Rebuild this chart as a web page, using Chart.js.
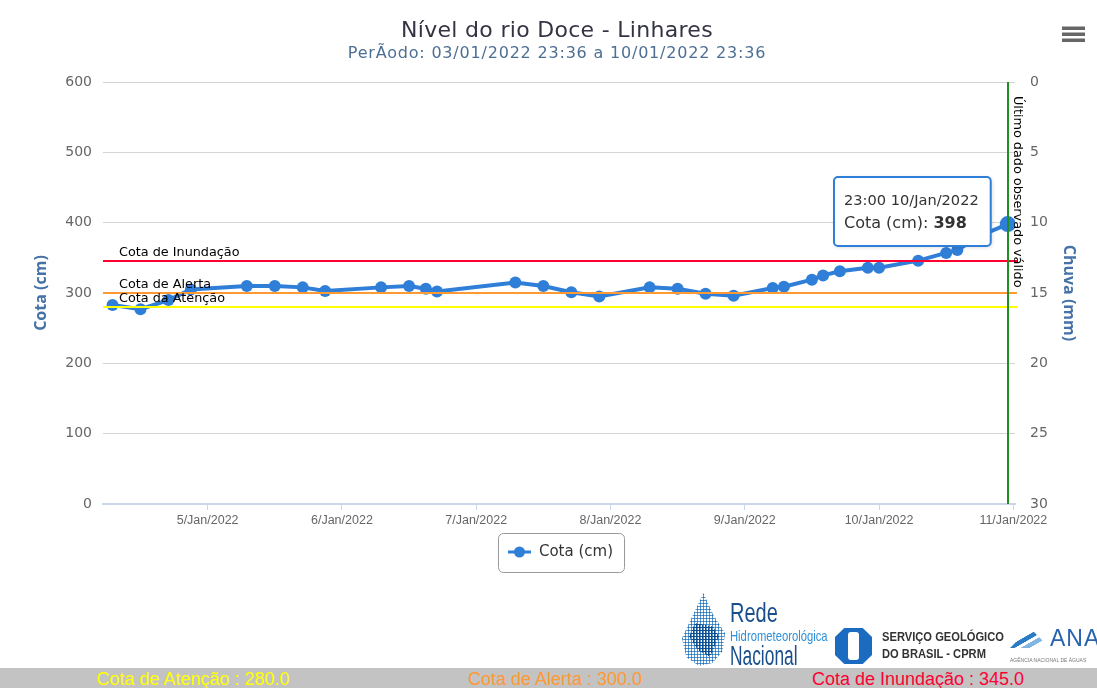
<!DOCTYPE html>
<html lang="pt-BR">
  <head>
    <meta charset="utf-8" />
    <title>Nível do rio Doce - Linhares</title>
    <script src="https://cdn.jsdelivr.net/npm/chart.js@4.4.9/dist/chart.umd.min.js"></script>
    <style>
      body { margin: 0; width: 1097px; height: 688px; overflow: hidden; background: #fff; position: relative; }
      #myChart { position: absolute; left: 0; top: 0; }
      .logo { position: absolute; white-space: nowrap; }
      #rede-gota {
        left: 681px; top: 593px; width: 45px; height: 73px;
        background: radial-gradient(circle, #1f74bd 0.9px, transparent 1.3px) 0 0 / 3px 3px;
        clip-path: polygon(50% 0, 72% 30%, 98% 55%, 92% 80%, 70% 96%, 40% 100%, 12% 88%, 2% 62%, 22% 36%);
      }
      #rede-gota::after {
        content: ""; position: absolute; left: 8px; top: 30px; width: 30px; height: 34px;
        background: radial-gradient(circle, #0f4f8f 1px, transparent 1.4px) 0 0 / 3px 3px;
        clip-path: polygon(20% 0, 80% 10%, 100% 40%, 70% 100%, 30% 80%, 0 40%);
      }
      #rede-txt { left: 730px; top: 600px; font-family: "Liberation Sans", sans-serif; color: #1a4f8c; line-height: 1; transform-origin: 0 0; }
      #rede-txt span { display: block; transform-origin: 0 0; }
      #rede-txt .r { font-size: 27px; transform: scaleX(0.74); }
      #rede-txt .p { font-size: 15px; color: #2f8fd8; transform: scaleX(0.75); margin: 1px 0 -1px; }
      #rede-txt .n { font-size: 28px; transform: scaleX(0.62); }
      #cprm-ico { left: 835px; top: 628px; width: 37px; height: 36px; background: #1b6cc0;
        clip-path: polygon(25% 0, 75% 0, 100% 25%, 100% 75%, 75% 100%, 25% 100%, 0 75%, 0 25%); }
      #cprm-ico::after { content: ""; position: absolute; left: 13px; top: 4px; width: 11px; height: 28px; background: #fff; border-radius: 3px; }
      #cprm-txt { left: 882px; top: 629px; font: bold 12px "Liberation Sans", sans-serif; color: #333; line-height: 17px; transform: scaleX(0.93); transform-origin: 0 0; }
      #ana-ico { left: 1010px; top: 628px; width: 40px; height: 20px;
        background: linear-gradient(150deg, transparent 40%, #2b7cc6 41%, #2b7cc6 52%, transparent 53%, transparent 60%, #7fb6e3 61%, #7fb6e3 72%, transparent 73%);
        clip-path: polygon(0 100%, 50% 0, 100% 100%); }
      #ana-txt { left: 1050px; top: 625px; font: 23px "Liberation Sans", sans-serif; color: #2a63b0; letter-spacing: 1px; }
      #ana-sub { left: 1010px; top: 657px; font: 5px "Liberation Sans", sans-serif; color: #777; }
      #cotas { position: absolute; left: 0; top: 668px; width: 1097px; height: 20px; background: #c3c3c3; overflow: hidden; }
      #cotas span { position: absolute; top: 1px; transform: translateX(-50%); white-space: nowrap;
        font: 18px "Liberation Sans", sans-serif; }
    </style>
  </head>

  <body>
    <canvas id="myChart" width="1097" height="600"></canvas>

    <div class="logo" id="rede-gota"></div>
    <div class="logo" id="rede-txt"><span class="r">Rede</span><span class="p">Hidrometeorológica</span><span class="n">Nacional</span></div>
    <div class="logo" id="cprm-ico"></div>
    <div class="logo" id="cprm-txt">SERVIÇO GEOLÓGICO<br />DO BRASIL - CPRM</div>
    <div class="logo" id="ana-ico"></div>
    <div class="logo" id="ana-txt">ANA</div>
    <div class="logo" id="ana-sub">AGÊNCIA NACIONAL DE ÁGUAS</div>
    <div id="cotas"></div>

    <script>
      // dados (cota em cm)
      const horarios = [
        "04/01 07:00", "04/01 12:00", "04/01 17:00", "04/01 21:00",
        "05/01 07:00", "05/01 12:00", "05/01 17:00", "05/01 21:00",
        "06/01 07:00", "06/01 12:00", "06/01 15:00", "06/01 17:00",
        "07/01 07:00", "07/01 12:00", "07/01 17:00", "07/01 22:00",
        "08/01 07:00", "08/01 12:00", "08/01 17:00", "08/01 22:00",
        "09/01 05:00", "09/01 07:00", "09/01 12:00", "09/01 14:00",
        "09/01 17:00", "09/01 22:00", "10/01 00:00", "10/01 07:00",
        "10/01 12:00", "10/01 14:00", "10/01 18:00", "10/01 23:00",
      ];
      const cota = [
        283, 277, 290, 305,
        310, 310, 308, 303,
        308, 310, 306, 302,
        315, 310, 301, 295,
        308, 306, 299, 296,
        307, 309, 319, 325,
        331, 336, 336, 346,
        357, 361, 381, 398,
      ];
      const limiarNomes = ["Cota de Inundação", "Cota de Alerta", "Cota da Atenção"];
      const limiarValores = [345, 300, 280];
      const rodapeNomes = ["Cota de Atenção", "Cota de Alerta", "Cota de Inundação"];
      const rodapeValores = [280, 300, 345];
      const meses = ["Jan"];
      const titulo = "Nível do rio Doce - Linhares";
      const subtitulo = "PerÃodo: 03/01/2022 23:36 a 10/01/2022 23:36";
      const ultimoDado = "Último dado observado válido";

      const cores = { serie: "#2f7ed8", inundacao: "#ff0033", alerta: "#ff9933", atencao: "#ffff00" };
      const limiarCores = [cores.inundacao, cores.alerta, cores.atencao];
      const rodapeCores = [cores.atencao, cores.alerta, cores.inundacao];
      const fonte = '"DejaVu Sans"';

      // horas desde 04/01/2022 00:00
      function horas(txt) {
        const [data, hora] = txt.split(" ");
        const dia = Number(data.split("/")[0]);
        const [hh, mm] = hora.split(":").map(Number);
        return (dia - 4) * 24 + hh + mm / 60;
      }

      const rodape = document.getElementById("cotas");
      [193, 555, 918].forEach((cx, i) => {
        const s = document.createElement("span");
        s.style.left = cx + "px";
        s.style.color = rodapeCores[i];
        s.textContent = `${rodapeNomes[i]} : ${rodapeValores[i].toFixed(1)}`;
        rodape.appendChild(s);
      });

      const extras = {
        id: "extras",
        afterDatasetsDraw(chart) {
          const { ctx, chartArea: a, scales } = chart;
          const y = scales.y;
          ctx.save();
          limiarValores.forEach((v, i) => {
            const py = Math.round(y.getPixelForValue(v));
            ctx.strokeStyle = limiarCores[i];
            ctx.lineWidth = 2;
            ctx.beginPath();
            ctx.moveTo(a.left, py);
            ctx.lineTo(a.right + 2, py);
            ctx.stroke();
            ctx.fillStyle = "#000";
            ctx.font = `12.8px ${fonte}`;
            ctx.textBaseline = "alphabetic";
            ctx.fillText(limiarNomes[i], a.left + 16, py - 5);
          });
          const gx = Math.round(scales.x.getPixelForValue(horas(horarios[horarios.length - 1])));
          ctx.strokeStyle = "#1f8f1f";
          ctx.lineWidth = 2;
          ctx.beginPath();
          ctx.moveTo(gx, a.top);
          ctx.lineTo(gx, a.bottom);
          ctx.stroke();
          ctx.translate(gx + 3, a.top + 14);
          ctx.rotate(Math.PI / 2);
          ctx.fillStyle = "#000";
          ctx.font = `12.8px ${fonte}`;
          ctx.textBaseline = "bottom";
          ctx.fillText(ultimoDado, 0, 0);
          ctx.restore();
        },
        afterDraw(chart) {
          const { ctx, chartArea: a } = chart;
          const cx = (a.left + a.right) / 2;
          ctx.save();
          // títulos
          ctx.textAlign = "center";
          ctx.textBaseline = "middle";
          ctx.fillStyle = "#333344";
          ctx.font = `22px ${fonte}`;
          ctx.letterSpacing = "0.3px";
          ctx.fillText(titulo, cx - 2, 31);
          ctx.fillStyle = "#4d6f94";
          ctx.font = `16px ${fonte}`;
          ctx.letterSpacing = "0.8px";
          ctx.fillText(subtitulo, cx - 2, 54);
          ctx.letterSpacing = "0px";

          // menu
          ctx.fillStyle = "#666";
          [28, 34, 40].forEach((ly) => ctx.fillRect(1062, ly - 1.5, 23, 3.5));

          // legenda
          ctx.font = `15px ${fonte}`;
          const tw = ctx.measureText("Cota (cm)").width;
          const lw = tw + 52, lx = cx - lw / 2 + 2, ly = 533;
          ctx.strokeStyle = "#999";
          ctx.lineWidth = 1;
          ctx.beginPath();
          ctx.roundRect(lx + 0.5, ly + 0.5, lw, 39, 5);
          ctx.stroke();
          ctx.strokeStyle = cores.serie;
          ctx.lineWidth = 3;
          ctx.beginPath();
          ctx.moveTo(lx + 10, ly + 19);
          ctx.lineTo(lx + 33, ly + 19);
          ctx.stroke();
          ctx.fillStyle = cores.serie;
          ctx.beginPath();
          ctx.arc(lx + 21.5, ly + 19, 5.5, 0, Math.PI * 2);
          ctx.fill();
          ctx.fillStyle = "#333";
          ctx.textAlign = "left";
          ctx.fillText("Cota (cm)", lx + 41, ly + 19);

          // tooltip do último ponto
          const meta = chart.getDatasetMeta(0);
          const el = meta.data[meta.data.length - 1];
          const [d, h] = horarios[horarios.length - 1].split(" ");
          const [dd, mm] = d.split("/");
          const cab = `${h} ${Number(dd)}/${meses[Number(mm) - 1]}/2022`;
          const rot = "Cota (cm): ";
          const val = String(cota[cota.length - 1]);
          ctx.font = `16px ${fonte}`;
          const w1 = ctx.measureText(rot).width;
          ctx.font = `bold 16px ${fonte}`;
          const w2 = ctx.measureText(val).width;
          ctx.font = `14.6px ${fonte}`;
          const w0 = ctx.measureText(cab).width;
          const bw = Math.max(w0, w1 + w2) + 22, bh = 69;
          const bx = el.x - 17 - bw, by = el.y - 47;
          ctx.shadowColor = "rgba(0,0,0,0.18)";
          ctx.shadowOffsetX = 1;
          ctx.shadowOffsetY = 1;
          ctx.shadowBlur = 4;
          ctx.fillStyle = "#fff";
          ctx.beginPath();
          ctx.roundRect(bx, by, bw, bh, 4);
          ctx.fill();
          ctx.shadowColor = "transparent";
          ctx.strokeStyle = cores.serie;
          ctx.lineWidth = 2;
          ctx.stroke();
          ctx.fillStyle = "#333";
          ctx.textBaseline = "middle";
          ctx.fillText(cab, bx + 10, by + 24);
          ctx.font = `16px ${fonte}`;
          ctx.fillText(rot, bx + 10, by + 47);
          ctx.font = `bold 16px ${fonte}`;
          ctx.fillText(val, bx + 10 + w1, by + 47);
          ctx.restore();
        },
      };

      const ctxEl = document.getElementById("myChart");
      new Chart(ctxEl, {
        type: "line",
        data: {
          datasets: [
            {
              label: "Cota (cm)",
              data: horarios.map((t, i) => ({ x: horas(t), y: cota[i] })),
              borderColor: cores.serie,
              backgroundColor: cores.serie,
              borderWidth: 4,
              pointRadius: (c) => (c.dataIndex === cota.length - 1 ? 8 : 6),
              pointBorderWidth: 0,
              tension: 0,
              yAxisID: "y",
            },
          ],
        },
        plugins: [extras],
        options: {
          responsive: false,
          animation: false,
          layout: { padding: { top: 82, left: 0, right: 0, bottom: 0 } },
          plugins: { legend: { display: false }, tooltip: { enabled: false }, title: { display: false } },
          scales: {
            x: {
              type: "linear",
              min: 5.3,
              max: 168.3,
              afterFit: (s) => { s.height = 96; },
              ticks: {
                stepSize: 24,
                includeBounds: false,
                autoSkip: false,
                maxRotation: 0,
                padding: 3,
                color: "#666",
                font: { family: "Liberation Sans", size: 12.5 },
                callback: (v) => `${4 + v / 24}/${meses[0]}/2022`,
              },
              grid: { drawOnChartArea: false, drawTicks: true, tickLength: 6, color: "#ccd6eb" },
              border: { color: "#ccd6eb", width: 2 },
            },
            y: {
              position: "left",
              min: 0,
              max: 600,
              afterFit: (s) => { s.width = 103; },
              ticks: { stepSize: 100, padding: 11, color: "#666", font: { family: "DejaVu Sans", size: 14 } },
              grid: { color: "#d4d4d4", drawTicks: false },
              border: { display: false },
              title: {
                display: true,
                text: "Cota (cm)",
                color: "#4572a7",
                font: { family: "Open Sans", size: 16, weight: "bold" },
                padding: { top: 32, bottom: 0 },
              },
            },
            y1: {
              position: "right",
              reverse: true,
              min: 0,
              max: 30,
              afterFit: (s) => { s.width = 82; },
              ticks: { stepSize: 5, padding: 15, color: "#666", font: { family: "DejaVu Sans", size: 14 } },
              grid: { drawOnChartArea: false, drawTicks: false },
              border: { display: false },
              title: {
                display: true,
                text: "Chuva (mm)",
                color: "#4572a7",
                font: { family: "Open Sans", size: 16, weight: "bold" },
                padding: { top: 19, bottom: 0 },
              },
            },
          },
        },
      });
    </script>
  </body>
</html>
